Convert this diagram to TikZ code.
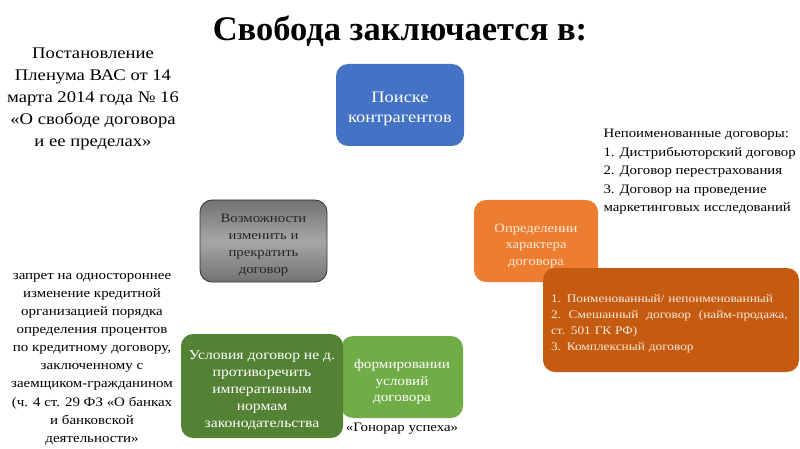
\documentclass[tikz,border=0pt]{standalone}
\usepackage{fontspec}
\setmainfont[FakeStretch=1.15]{Liberation Serif}
\newfontfamily\titlefont{Liberation Serif}
\usetikzlibrary{positioning}
\definecolor{bluebox}{RGB}{68,114,196}
\definecolor{orangebox}{RGB}{237,125,49}
\definecolor{rustbox}{RGB}{197,90,17}
\definecolor{darkgreen}{RGB}{84,130,53}
\definecolor{lightgreen}{RGB}{112,173,71}
\definecolor{boxtext}{RGB}{250,235,220}

\begin{document}
\begin{tikzpicture}[x=1pt,y=-1pt,
 box/.style={rounded corners=12pt,inner sep=0pt},
 inbox/.style={align=center,inner sep=0pt},
 note/.style={align=center,font=\fontsize{13}{18.1}\selectfont}]
\useasboundingbox (0,0) rectangle (800,449);
\node[font=\titlefont\bfseries\fontsize{34.5}{38}\selectfont] (title) at (400,31) {Свобода заключается в:};
\node[align=center,font=\fontsize{16.2}{22}\selectfont] (decree) at (93,99)
 {Постановление\\Пленума ВАС от 14\\марта 2014 года № 16\\«О свободе договора\\и ее пределах»};
% main boxes
\node[box,fill=bluebox,minimum width=128pt,minimum height=82pt] (search) at (400,105) {};
\node[inbox,text=white,font=\fontsize{16}{20}\selectfont] (searchtext) at ([yshift=-4pt]search.center)
 {Поиске\\контрагентов};
\node[box,draw=black!80,thick,top color=black!55,bottom color=black!55,middle color=black!35,
 minimum width=127pt,minimum height=82pt] (change) at (263.5,241) {};
\node[inbox,text=black!85,font=\fontsize{12.8}{17}\selectfont] (changetext) at ([yshift=-4pt]change.center)
 {Возможности\\изменить и\\прекратить\\договор};
\node[box,fill=orangebox,minimum width=124pt,minimum height=82pt] (nature) at (536,241) {};
\node[inbox,text=boxtext,font=\fontsize{12.7}{16.5}\selectfont] (naturetext) at ([yshift=-5pt]nature.center)
 {Определении\\характера\\договора};
\node[box,fill=rustbox,minimum width=256pt,minimum height=104pt] (kinds) at (671,320) {};
\node[inbox,text=boxtext,align=left,text width=240pt,font=\fontsize{11.6}{16}\selectfont] (kindstext)
 at ([yshift=-4pt]kinds.center)
 {1. Поименованный/ непоименованный\\2.\ \ Смешанный\ \ договор\ \ (найм-продажа,\\ст. 501 ГК РФ)\\3. Комплексный договор};
\node[box,fill=lightgreen,minimum width=122pt,minimum height=82pt] (terms) at (402,377) {};
\node[inbox,text=white,font=\fontsize{13.2}{16.8}\selectfont] (termstext) at ([yshift=-5pt]terms.center)
 {формировании\\условий\\договора};
\node[box,fill=darkgreen,minimum width=162pt,minimum height=104pt] (limits) at (262,386) {};
\node[inbox,text=white,font=\fontsize{13.6}{17}\selectfont] (limitstext) at ([yshift=-4pt]limits.center)
 {Условия договор не д.\\противоречить\\императивным\\нормам\\законодательства};
% side notes
\node[align=left,anchor=north west,font=\fontsize{12.9}{18.5}\selectfont] (unnamed) at (600,126)
 {Непоименованные договоры:\\1. Дистрибьюторский договор\\2. Договор перестрахования\\3. Договор на проведение\\маркетинговых исследований};
\node[note] (ban) at (92,359)
 {запрет на одностороннее\\изменение кредитной\\организацией порядка\\определения процентов\\по кредитному договору,\\заключенному с\\заемщиком-гражданином\\(ч. 4 ст. 29 ФЗ «О банках\\и банковской\\деятельности»};
\node[font=\fontsize{12.9}{15}\selectfont,below=1pt of terms] (fee) {«Гонорар успеха»};
\end{tikzpicture}
\end{document}
